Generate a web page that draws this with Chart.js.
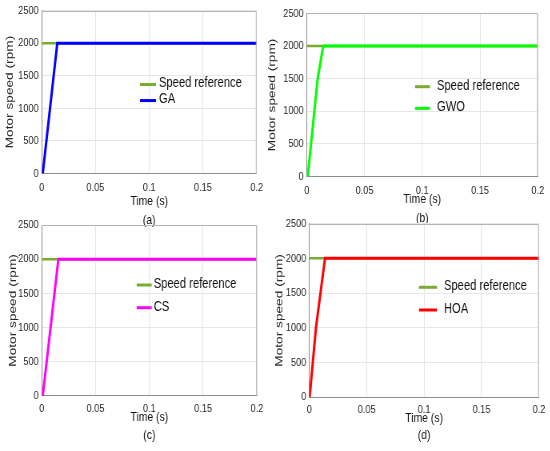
<!DOCTYPE html>
<html>
<head>
<meta charset="utf-8">
<title>Motor speed response</title>
<style>
  html, body { margin: 0; padding: 0; background: #fff; }
  #wrap { position: relative; width: 550px; height: 451px; overflow: hidden; }
  /* the figure is squeezed sideways, so draw wider and scale back */
  #wrap canvas { position: absolute; left: 0; top: 0; transform: scaleX(0.8); transform-origin: 0 0; }
</style>
</head>
<body>
<div id="wrap">
  <canvas id="chart-a" width="688" height="451"></canvas>
  <canvas id="chart-b" width="688" height="451"></canvas>
  <canvas id="chart-c" width="688" height="451"></canvas>
  <canvas id="chart-d" width="688" height="451"></canvas>
</div>
<script src="https://cdn.jsdelivr.net/npm/chart.js"></script>
<script>
// values
const xTicks = [0, 0.05, 0.1, 0.15, 0.2];
const xTickLabels = ['0', '0.05', '0.1', '0.15', '0.2'];
const yTicks = [0, 500, 1000, 1500, 2000, 2500];
const yTickLabels = ['0', '500', '1000', '1500', '2000', '2500'];

const refTime = [0, 0.2];
const refSpeed = [2000, 2000];

const gaTime = [0, 0.001, 0.0145, 0.2];
const gaSpeed = [0, 0, 2000, 2000];

const gwoTime = [0, 0.0009, 0.0095, 0.0143, 0.2];
const gwoSpeed = [0, 0, 1500, 2000, 2000];

const csTime = [0, 0.001, 0.0155, 0.2];
const csSpeed = [0, 0, 2000, 2000];

const hoaTime = [0, 0.0003, 0.0058, 0.0137, 0.2];
const hoaSpeed = [0, 0, 1000, 2000, 2000];

const SX = 0.8;      // horizontal squeeze of the canvases
const CW = 688;      // canvas width before the squeeze
const CH = 451;
const FONT = '"Liberation Sans", Arial, sans-serif';
const REF_COLOR = '#77ac30';
const TEXT = '#262626';

function points(xs, ys) {
    return xs.map((x, i) => ({ x: x, y: ys[i] }));
}

// legend drawn inside the plot, like the matlab one (offsets given in page px)
const insideLegend = {
    id: 'insideLegend',
    afterDatasetsDraw(chart, args, opts) {
        const ctx = chart.ctx;
        const a = chart.chartArea;
        ctx.save();
        ctx.font = '14px ' + FONT;
        ctx.textBaseline = 'middle';
        chart.data.datasets.forEach((ds, i) => {
            const x = a.left + opts.dx / SX;
            const y = a.top + opts.dy + i * opts.rowGap;
            const len = opts.lineLen / SX;
            ctx.strokeStyle = ds.borderColor;
            ctx.lineWidth = 3;
            ctx.beginPath();
            ctx.moveTo(x, y);
            ctx.lineTo(x + len, y);
            ctx.stroke();
            ctx.fillStyle = '#111';
            ctx.fillText(ds.label, x + len + opts.gap / SX, y - 1);
        });
        ctx.restore();
    }
};

// box round the axes (top and right sides)
const frame = {
    id: 'frame',
    afterDraw(chart) {
        const ctx = chart.ctx;
        const a = chart.chartArea;
        ctx.save();
        ctx.strokeStyle = '#b4b4b4';
        ctx.lineWidth = 1;
        ctx.beginPath();
        ctx.moveTo(a.left, Math.round(a.top) + 0.5);
        ctx.lineTo(a.right - 0.6, Math.round(a.top) + 0.5);
        ctx.lineTo(a.right - 0.6, Math.round(a.bottom));
        ctx.stroke();
        ctx.restore();
    }
};

// layout in page px: plot area [left, top, right, bottom]
const panels = [
    { id: 'chart-a', caption: '(a)', name: 'GA', color: '#0000ff', time: gaTime, speed: gaSpeed,
      area: [41.7, 9.4, 256.7, 173.5], yWidth: 38.4, xHeight: 55.6, tickPad: 7.9, capGap: 18.3,
      legend: { dx: 98.3, dy: 73.9, rowGap: 16, lineLen: 16, gap: 3 } },
    { id: 'chart-b', caption: '(b)', name: 'GWO', color: '#00ff00', time: gwoTime, speed: gwoSpeed,
      area: [306.7, 13.4, 539, 176.4], yWidth: 40.9, xHeight: 51.1, tickPad: 7.7, capGap: 19,
      legend: { dx: 108.3, dy: 73.3, rowGap: 21.7, lineLen: 15, gap: 7 } },
    { id: 'chart-c', caption: '(c)', name: 'CS', color: '#ff00ff', time: csTime, speed: csSpeed,
      area: [41.7, 225.2, 257, 395.7], yWidth: 35.4, xHeight: 49, tickPad: 6, capGap: 18,
      legend: { dx: 95, dy: 59.8, rowGap: 22.7, lineLen: 15, gap: 2 } },
    { id: 'chart-d', caption: '(d)', name: 'HOA', color: '#ff0000', time: hoaTime, speed: hoaSpeed,
      area: [309.3, 223.6, 539, 397.3], yWidth: 36.5, xHeight: 47.1, tickPad: 6.1, capGap: 17.4,
      legend: { dx: 109.7, dy: 63.7, rowGap: 22.7, lineLen: 18, gap: 7 } }
];

function makePanel(p) {
    const canvas = document.getElementById(p.id);
    return new Chart(canvas, {
        type: 'line',
        data: {
            datasets: [
                { label: 'Speed reference', data: points(refTime, refSpeed), borderColor: REF_COLOR,
                  borderWidth: 2.5, pointRadius: 0, order: 1 },
                { label: p.name, data: points(p.time, p.speed), borderColor: p.color,
                  borderWidth: 3, pointRadius: 0, order: 0 }
            ]
        },
        plugins: [insideLegend, frame],
        options: {
            responsive: false,
            animation: false,
            events: [],
            layout: {
                padding: {
                    left: (p.area[0] - p.yWidth) / SX,
                    top: p.area[1],
                    right: CW - p.area[2] / SX,
                    bottom: CH - p.area[3] - p.xHeight
                }
            },
            elements: { line: { tension: 0 } },
            plugins: {
                legend: { display: false },
                tooltip: { enabled: false },
                insideLegend: p.legend
            },
            scales: {
                x: {
                    type: 'linear',
                    min: 0,
                    max: 0.2,
                    afterBuildTicks: (s) => { s.ticks = xTicks.map(v => ({ value: v })); },
                    afterFit: (s) => { s.height = p.xHeight; },
                    ticks: {
                        padding: p.tickPad,
                        color: TEXT,
                        font: { family: FONT, size: 11.5 },
                        maxRotation: 0,
                        callback: (v) => xTickLabels[xTicks.indexOf(v)]
                    },
                    grid: { color: '#e6e6e6', drawTicks: false },
                    border: { color: '#8c8c8c' },
                    title: {
                        display: true,
                        text: ['Time (s)', p.caption],
                        color: '#111',
                        padding: 0,
                        font: { family: FONT, size: 13, lineHeight: p.capGap / 13 }
                    }
                },
                y: {
                    min: 0,
                    max: 2500,
                    afterBuildTicks: (s) => { s.ticks = yTicks.map(v => ({ value: v })); },
                    afterFit: (s) => { s.width = p.yWidth / SX; },
                    ticks: {
                        padding: 3 / SX,
                        color: TEXT,
                        font: { family: FONT, size: 11.5 },
                        callback: (v) => yTickLabels[yTicks.indexOf(v)]
                    },
                    grid: { color: '#e6e6e6', drawTicks: false },
                    border: { color: '#8c8c8c' },
                    title: {
                        display: true,
                        text: 'Motor speed (rpm)',
                        color: TEXT,
                        padding: 0,
                        font: { family: FONT, size: 13.7, lineHeight: 1.2 }
                    }
                }
            }
        }
    });
}

panels.forEach(makePanel);
</script>
</body>
</html>
